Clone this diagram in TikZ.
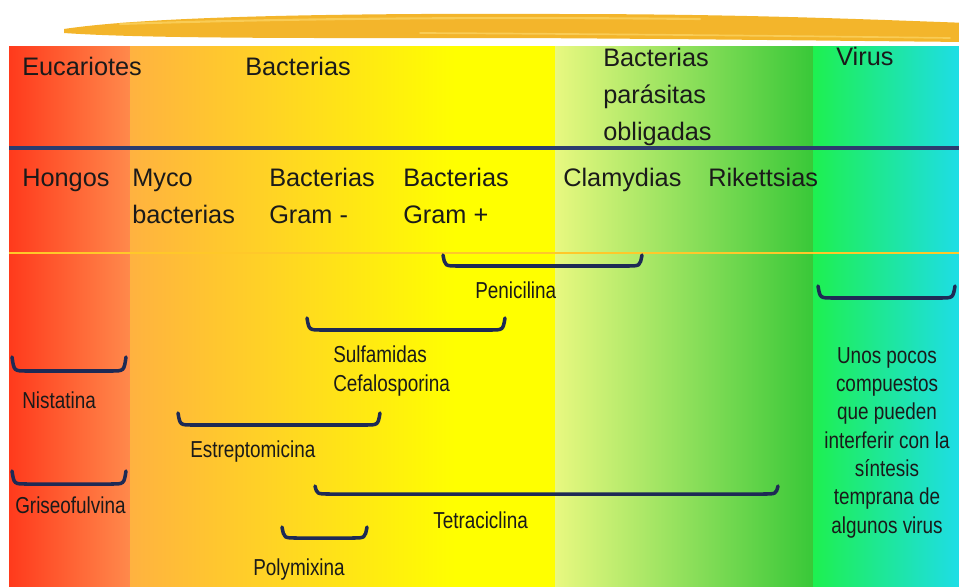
\documentclass[tikz,border=0pt]{standalone}
\usepackage{fontspec}
\setmainfont{Liberation Sans}
\newfontfamily\narrowfont{Liberation Sans}[FakeStretch=0.82]
\usetikzlibrary{positioning}
\definecolor{redL}{HTML}{FF3A1C}
\definecolor{redR}{HTML}{FF8A4C}
\definecolor{orangeL}{HTML}{FFB240}
\definecolor{yellowR}{HTML}{FFFF00}
\definecolor{limeL}{HTML}{E8F880}
\definecolor{greenR}{HTML}{38C838}
\definecolor{greenL}{HTML}{1EF050}
\definecolor{cyanR}{HTML}{1EDCF0}
\definecolor{brush}{HTML}{F3B52B}
\definecolor{brushlt}{HTML}{F9CC55}
\definecolor{lineblue}{HTML}{2B3C6E}
\definecolor{lineyel}{HTML}{FFC82A}
\definecolor{navy}{HTML}{1E2A55}
\definecolor{ink}{HTML}{1A1A1A}

\begin{document}
\begin{tikzpicture}[x=0.025cm,y=-0.025cm,
  group/.style={anchor=base west, inner sep=0pt, text=ink, align=left,
    font=\fontsize{18}{26.3}\selectfont},
  drug/.style={anchor=base west, inner sep=0pt, text=ink, align=left,
    font=\narrowfont\fontsize{16.4}{20.1}\selectfont},
  brace/.style={draw=navy, line width=2.5pt, line cap=round}]
\useasboundingbox (0,0) rectangle (959,586);

% background bands
\shade[left color=redL, right color=redR] (9,46) rectangle (131,596);
\shade[left color=orangeL, right color=yellowR] (130,46) rectangle (456,596);
\fill[yellowR] (455,46) rectangle (556,596);
\shade[left color=limeL, right color=greenR] (555,46) rectangle (814,596);
\shade[left color=greenL, right color=cyanR] (813,46) rectangle (969,596);

% brush stroke on top
\fill[brush] (64,29) .. controls (150,16) and (350,13) .. (560,14)
  .. controls (750,14) and (880,20) .. (969,23) -- (969,42)
  .. controls (850,41) and (700,39) .. (520,38)
  .. controls (330,38) and (150,39) .. (64,33) -- cycle;
\draw[brushlt, line width=1.5pt, line cap=round] (120,24) .. controls (300,18) and (500,17) .. (700,19);
\draw[brushlt, line width=1.2pt, line cap=round] (420,33) .. controls (600,34) and (800,36) .. (950,38);

% row separators
\draw[lineblue, line width=2.2pt] (9,148) -- (969,148);
\draw[lineyel, line width=2pt] (9,253) -- (969,253);

% first row (base = last line)
\node[group] (euc) at (22,75) {Eucariotes};
\node[group] (bact) at (245,75) {Bacterias};
\node[group] (parasit) at (603,140) {Bacterias\\parásitas\\obligadas};
\node[group] (virus) at (836,65) {Virus};

% second row
\node[group] (hongos) at (22,186) {Hongos};
\node[group] (myco) at (132,223) {Myco\\bacterias};
\node[group] (gramneg) at (269,223) {Bacterias\\Gram -};
\node[group] (grampos) at (403,223) {Bacterias\\Gram +};
\node[group] (clamyd) at (563,186) {Clamydias};
\node[group] (riketts) at (708,186) {Rikettsias};

% spectrum braces
\foreach \xa/\xb/\ya/\yb in {443/642/255/266, 307/505/318/330, 12/126/357/371,
    178/380/413/425, 12/126/471/484, 315/778/486/494, 282/367/527/538, 818/955/286/298}
  \draw[brace] (\xa,\ya) .. controls (\xa+2,\yb) .. (\xa+15,\yb) -- (\xb-15,\yb)
    .. controls (\xb-2,\yb) .. (\xb,\ya);

% drugs
\node[drug] (penic) at (475,298) {Penicilina};
\node[drug] (sulfa) at (333,391) {Sulfamidas\\Cefalosporina};
\node[drug] (nistat) at (22,408) {Nistatina};
\node[drug] (estrep) at (190,457) {Estreptomicina};
\node[drug] (griseo) at (15,513) {Griseofulvina};
\node[drug] (tetra) at (433,528) {Tetraciclina};
\node[drug] (polym) at (253,575) {Polymixina};
\node[drug, anchor=base, align=center] (virtxt) at (887,533)
  {Unos pocos\\compuestos\\que pueden\\interferir con la\\síntesis\\temprana de\\algunos virus};
\end{tikzpicture}
\end{document}
